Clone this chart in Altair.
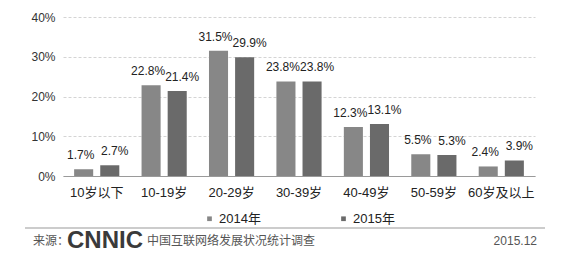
import altair as alt
import pandas as pd

categories = ["10岁以下", "10-19岁", "20-29岁", "30-39岁", "40-49岁", "50-59岁", "60岁及以上"]
series = ["2014年", "2015年"]
values_2014 = [1.7, 22.8, 31.5, 23.8, 12.3, 5.5, 2.4]
values_2015 = [2.7, 21.4, 29.9, 23.8, 13.1, 5.3, 3.9]
y_ticks = [0, 10, 20, 30, 40]
colors = ["#878787", "#6a6a6a"]

rows = []
for c, a, b in zip(categories, values_2014, values_2015):
    rows.append({"cat": c, "year": series[0], "v": a})
    rows.append({"cat": c, "year": series[1], "v": b})
df = pd.DataFrame(rows)

FONT = "Liberation Sans, Noto Sans CJK SC, sans-serif"

x = alt.X("cat:N", sort=categories, title=None,
          scale=alt.Scale(paddingInner=0.33, paddingOuter=0.165),
          axis=alt.Axis(labelAngle=0, labelFontSize=13, labelColor="#222222",
                        labelFont=FONT, labelPadding=10, ticks=False,
                        domainColor="#9a9a9a", domainWidth=1.2))
xoff = alt.XOffset("year:N", sort=series,
                   scale=alt.Scale(paddingInner=0.27, paddingOuter=0))
y = alt.Y("v:Q", title=None,
          scale=alt.Scale(domain=[0, 40], nice=False),
          axis=alt.Axis(values=y_ticks, labelExpr="datum.value + '%'",
                        labelFontSize=12, labelColor="#333333", labelFont=FONT,
                        labelPadding=8, ticks=False, domain=False,
                        labelOverlap=False, labelBound=False,
                        grid=True, gridColor="#d4d4d4", gridDash=[3, 2],
                        gridWidth=1))
color = alt.Color("year:N", sort=series, title=None,
                  scale=alt.Scale(domain=series, range=colors),
                  legend=alt.Legend(orient="none", legendX=140, legendY=195,
                                    direction="horizontal", symbolType="square",
                                    symbolSize=22, labelFontSize=13,
                                    labelFont=FONT, labelColor="#222222",
                                    columnPadding=76, symbolStrokeWidth=0,
                                    labelOffset=3))

base = alt.Chart(df)
bars = base.mark_bar().encode(x=x, xOffset=xoff, y=y, color=color)

def label_layer(year, dx):
    return base.transform_filter(alt.datum.year == year).transform_calculate(
        lbl="format(datum.v, '.1f') + '%'"
    ).mark_text(baseline="bottom", dy=-7, dx=dx, fontSize=12, font=FONT,
                color="#222222").encode(x=x, xOffset=xoff, y=y, text="lbl:N")

labels_a = label_layer(series[0], -3)
labels_b = label_layer(series[1], 5)

foot_df = pd.DataFrame({"k": [0]})
footer_rule = alt.Chart(foot_df).mark_rule(color="#9a9a9a", strokeWidth=1.2).encode(
    x=alt.value(-38), x2=alt.value(482), y=alt.value(211))
src = alt.Chart(foot_df).mark_text(align="left", baseline="middle", fontSize=12,
                                   font=FONT, color="#555555").encode(
    x=alt.value(-30), y=alt.value(224), text=alt.value("来源："))
logo = alt.Chart(foot_df).mark_text(align="left", baseline="middle", fontSize=24,
                                    font="Liberation Sans", fontWeight="bold",
                                    color="#3a3a3a").encode(
    x=alt.value(4), y=alt.value(224), text=alt.value("CNNIC"))
survey = alt.Chart(foot_df).mark_text(align="left", baseline="middle", fontSize=12,
                                      font=FONT, color="#555555").encode(
    x=alt.value(84), y=alt.value(224), text=alt.value("中国互联网络发展状况统计调查"))
date = alt.Chart(foot_df).mark_text(align="right", baseline="middle", fontSize=12,
                                    font=FONT, color="#555555").encode(
    x=alt.value(474), y=alt.value(224), text=alt.value("2015.12"))

chart = alt.layer(bars, labels_a, labels_b, footer_rule, src, logo, survey, date).properties(
    width=472, height=159,
    padding={"left": 63, "top": 17, "right": 40, "bottom": 85},
    autosize=alt.AutoSizeParams(type="none"),
    background="white",
).configure_view(stroke=None)

chart.save("out.html", embed_options={"renderer": "svg", "actions": False})
